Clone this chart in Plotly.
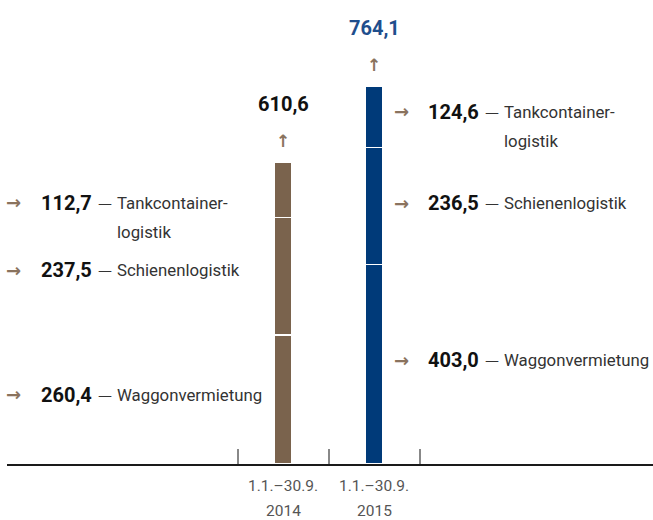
import plotly.graph_objects as go

# ---- data ----
periods = ["2014", "2015"]
period_line1 = ["1.1.–30.9.", "1.1.–30.9."]
segments = ["Waggonvermietung", "Schienenlogistik", "Tankcontainer-logistik"]
values_2014 = [260.4, 237.5, 112.7]
values_2015 = [403.0, 236.5, 124.6]
totals = [610.6, 764.1]
value_labels_2014 = ["260,4", "237,5", "112,7"]
value_labels_2015 = ["403,0", "236,5", "124,6"]
total_labels = ["610,6", "764,1"]
segment_text = [["Waggonvermietung"], ["Schienenlogistik"], ["Tankcontainer-", "logistik"]]

# ---- styles ----
BROWN = "#7A634D"
BLUE = "#003A79"
ARROW = "#8A735E"
BLUE_TXT = "#1F4E8C"
LABEL_FONT = "Roboto, sans-serif"
VALUE_FONT = "Roboto, sans-serif"
YMAX = 938
left_yshift = [5, 6, -13]
right_yshift = [4, 3, 5]

fig = go.Figure()
series = [values_2014, values_2015]
colors = [BROWN, BLUE]
for si in range(len(segments)):
    fig.add_trace(go.Bar(
        x=periods,
        y=[series[0][si], series[1][si]],
        marker=dict(color=colors, line=dict(color="white", width=1.5)),
        width=0.19,
        showlegend=False,
        hoverinfo="skip",
    ))

ann = []

def seg_centers(vals):
    out, c = [], 0
    for v in vals:
        out.append(c + v / 2)
        c += v
    return out

# annotation x uses category index (0, 1)
side_cfg = [
    dict(idx=0, vals=values_2014, labs=value_labels_2014, ys=left_yshift,
         arrow=-270, value=-244, dash=-187, text=-168),
    dict(idx=1, vals=values_2015, labs=value_labels_2015, ys=right_yshift,
         arrow=27, value=52, dash=109, text=128),
]
for cfg in side_cfg:
    centers = seg_centers(cfg["vals"])
    for i, yc in enumerate(centers):
        ys = cfg["ys"][i]
        ann.append(dict(x=cfg["idx"], y=yc, xref="x", yref="y", text="→",
                        showarrow=False, xshift=cfg["arrow"], yshift=ys,
                        font=dict(family="DejaVu Sans", size=18, color=ARROW, weight="bold")))
        ann.append(dict(x=cfg["idx"], y=yc, xref="x", yref="y", text="<b>%s</b>" % cfg["labs"][i],
                        showarrow=False, xanchor="left", xshift=cfg["value"], yshift=ys,
                        font=dict(family=VALUE_FONT, size=20, color="#111111")))
        ann.append(dict(x=cfg["idx"], y=yc, xref="x", yref="y", text="—",
                        showarrow=False, xanchor="left", xshift=cfg["dash"], yshift=ys,
                        font=dict(family="DejaVu Sans", size=14, color="#333333")))
        for li, line in enumerate(segment_text[i]):
            ann.append(dict(x=cfg["idx"], y=yc, xref="x", yref="y", text=line,
                            showarrow=False, xanchor="left", xshift=cfg["text"], yshift=ys - 29 * li,
                            font=dict(family=LABEL_FONT, size=16.8, color="#333333")))

# totals
for i, p in enumerate(periods):
    ann.append(dict(x=i, y=totals[i], xref="x", yref="y", text="↑", showarrow=False,
                    yshift=21, font=dict(family="DejaVu Sans", size=17, color=ARROW, weight="bold")))
    ann.append(dict(x=i, y=totals[i], xref="x", yref="y", text="<b>%s</b>" % total_labels[i],
                    showarrow=False, yshift=58,
                    font=dict(family=VALUE_FONT, size=20, color="#111111" if i == 0 else BLUE_TXT)))
    # category labels
    ann.append(dict(x=i, y=0, xref="x", yref="y", text=period_line1[i], showarrow=False,
                    yshift=-21.5, font=dict(family=VALUE_FONT, size=15.5, color="#555555")))
    ann.append(dict(x=i, y=0, xref="x", yref="y", text=p, showarrow=False,
                    yshift=-47, font=dict(family=VALUE_FONT, size=15.5, color="#555555")))

fig.update_layout(
    barmode="stack",
    width=653, height=520,
    margin=dict(l=7, r=0, t=0, b=56),
    paper_bgcolor="white", plot_bgcolor="white",
    annotations=ann,
    xaxis=dict(type="category", range=[-3.033, 4.066], showgrid=False, zeroline=False,
               tickson="boundaries", ticks="inside", ticklen=15, tickwidth=1.5,
               tickcolor="#888888", showticklabels=False,
               showline=True, linecolor="#1a1a1a", linewidth=1.5, fixedrange=True),
    yaxis=dict(range=[0, YMAX], visible=False, fixedrange=True),
)

fig.write_html("out.html", config={"displayModeBar": False})
